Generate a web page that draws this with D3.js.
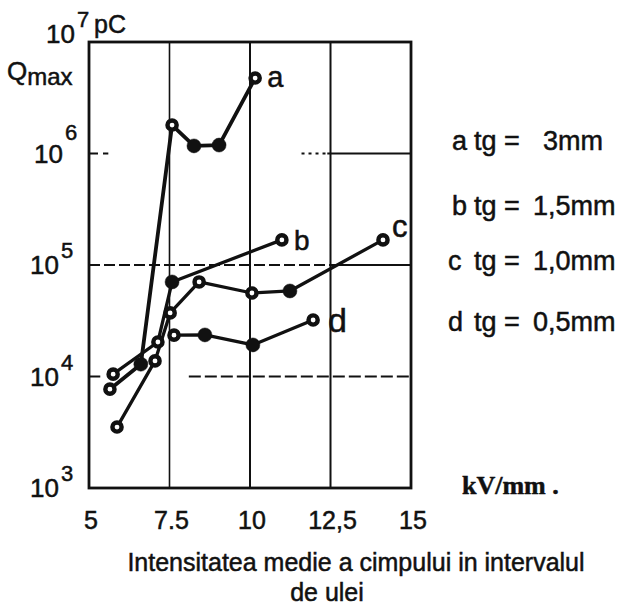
<!DOCTYPE html>
<html>
<head>
<meta charset="utf-8">
<script src="https://cdn.jsdelivr.net/npm/d3@7"></script>
<style>
  body { margin: 0; background: #fff; }
  svg { display: block; }
  text { fill: #111; stroke: #111; stroke-width: 0.5; }
</style>
</head>
<body>
<svg id="chart" width="625" height="608"></svg>
<script>
// Axis ticks
const xTicks = [5, 7.5, 10, 12.5, 15];
const xTickLabels = ["5", "7.5", "10", "12,5", "15"];
const yExponents = [3, 4, 5, 6, 7];

// Field strength (kV/mm) and maximum charge Q_max (pC) for each gap tg
const fieldA = [5.65, 6.61, 7.58, 8.26, 9.04, 10.16];
const chargeA = [7.7e3, 1.29e4, 1.80e6, 1.17e6, 1.19e6, 4.75e6];
const solidA = [false, true, false, true, true, false];

const fieldB = [5.75, 7.14, 7.58, 10.99];
const chargeB = [1.05e4, 2.04e4, 7.05e4, 1.68e5];
const solidB = [false, false, true, false];

const fieldC = [5.87, 7.05, 7.52, 8.42, 10.06, 11.24, 14.13];
const chargeC = [3.52e3, 1.38e4, 3.72e4, 7.05e4, 5.61e4, 5.85e4, 1.68e5];
const solidC = [false, false, false, false, false, true, false];

const fieldD = [7.64, 8.60, 10.09, 11.96];
const chargeD = [2.35e4, 2.36e4, 1.92e4, 3.21e4];
const solidD = [false, true, true, false];

const seriesNames = ["a", "b", "c", "d"];
const legendGap = ["3mm", "1,5mm", "1,0mm", "0,5mm"];

const series = [
  { name: seriesNames[0], field: fieldA, charge: chargeA, solid: solidA },
  { name: seriesNames[1], field: fieldB, charge: chargeB, solid: solidB },
  { name: seriesNames[2], field: fieldC, charge: chargeC, solid: solidC },
  { name: seriesNames[3], field: fieldD, charge: chargeD, solid: solidD }
];

const W = 625, H = 608;
const margin = { top: 42, right: 214, bottom: 120, left: 89 };
const svg = d3.select("#chart");
const FONT = "'Liberation Sans Narrow', 'Liberation Sans', Arial, sans-serif";

const x = d3.scaleLinear().domain([5, 15]).range([margin.left, W - margin.right]);
const y = d3.scaleLog().domain([1e3, 1e7]).range([H - margin.bottom, margin.top]);

const g = svg.append("g");

// Vertical grid lines
g.selectAll("line.vgrid")
  .data(xTicks.slice(1, -1))
  .join("line")
  .attr("x1", d => x(d)).attr("x2", d => x(d))
  .attr("y1", y(1e7)).attr("y2", y(1e3))
  .attr("stroke", "#111").attr("stroke-width", d => d === 7.5 ? 1.6 : 2);

// Horizontal grid lines (dashed, broken where the drawing leaves them open)
const hgrid = [
  { q: 1e4, from: 5, to: 5.35 },
  { q: 1e4, from: 8.1, to: 15, dash: "12,4" },
  { q: 1e5, from: 5, to: 12.5, dash: "11,4" },
  { q: 1e5, from: 12.5, to: 15 },
  { q: 1e6, from: 5, to: 5.6, dash: "9,5" },
  { q: 1e6, from: 11.6, to: 12.4, dash: "3,4" },
  { q: 1e6, from: 12.4, to: 15 }
];
g.selectAll("line.hgrid")
  .data(hgrid)
  .join("line")
  .attr("x1", d => x(d.from)).attr("x2", d => x(d.to))
  .attr("y1", d => y(d.q)).attr("y2", d => y(d.q))
  .attr("stroke", "#111").attr("stroke-width", 2)
  .attr("stroke-dasharray", d => d.dash || null);

// Frame
g.append("rect")
  .attr("x", x(5)).attr("y", y(1e7))
  .attr("width", x(15) - x(5)).attr("height", y(1e3) - y(1e7))
  .attr("fill", "none").attr("stroke", "#111").attr("stroke-width", 2.8);

// Curves
const line = d3.line()
  .x(d => x(d[0]))
  .y(d => y(d[1]));

series.forEach(s => {
  const pts = s.field.map((f, i) => [f, s.charge[i], s.solid[i]]);
  g.append("path")
    .attr("d", line(pts))
    .attr("fill", "none")
    .attr("stroke", "#111")
    .attr("stroke-width", s.name === "a" ? 3.8 : 3.3)
    .attr("stroke-linejoin", "round")
    .attr("stroke-linecap", "round");
  s.pts = pts;
});

// Markers: solid dots and open rings
series.forEach(s => {
  g.selectAll(null)
    .data(s.pts)
    .join("circle")
    .attr("cx", d => x(d[0])).attr("cy", d => y(d[1]))
    .attr("r", d => d[2] ? 7 : 4.6)
    .attr("fill", d => d[2] ? "#111" : "#fff")
    .attr("stroke", "#111")
    .attr("stroke-width", d => d[2] ? 0.5 : 4.4);
});

// Curve letters next to the last point
const labelOffset = { a: [12, 9, 29], b: [12, 10, 28], c: [9, -3, 31], d: [15, 12, 34] };
series.forEach(s => {
  const last = s.pts[s.pts.length - 1];
  const o = labelOffset[s.name];
  g.append("text")
    .attr("x", x(last[0]) + o[0]).attr("y", y(last[1]) + o[1])
    .attr("font-family", FONT).attr("font-size", o[2])
    .text(s.name);
});

// Y tick labels: 10 with exponent
yExponents.forEach(e => {
  const yy = y(Math.pow(10, e));
  const right = e === 7 ? 75 : (e === 6 ? 63 : 59);
  const base = e === 7 ? yy + 1 : yy + 9;
  g.append("text")
    .attr("x", right).attr("y", base)
    .attr("text-anchor", "end")
    .attr("font-family", FONT).attr("font-size", 26)
    .text("10");
  g.append("text")
    .attr("x", right + 2).attr("y", base - (e === 6 ? 23 : 16))
    .attr("font-family", FONT).attr("font-size", 22)
    .text(e);
});
g.append("text")
  .attr("x", 94).attr("y", 33)
  .attr("font-family", FONT).attr("font-size", 25)
  .text("pC");

// Y axis title Q_max
const qt = g.append("text")
  .attr("x", 7).attr("y", 80)
  .attr("font-family", FONT).attr("font-size", 26);
qt.append("tspan").text("Q");
qt.append("tspan").attr("dy", 5).attr("font-size", 24).text("max");

// X tick labels
g.selectAll("text.xtick")
  .data(xTicks)
  .join("text")
  .attr("x", d => x(d) + 2)
  .attr("y", 529)
  .attr("text-anchor", "middle")
  .attr("font-family", FONT).attr("font-size", 25)
  .text((d, i) => xTickLabels[i]);

// Unit
g.append("text")
  .attr("x", 462).attr("y", 494)
  .attr("font-family", "'Liberation Serif', 'DejaVu Serif', serif")
  .attr("font-weight", "bold").attr("font-size", 26)
  .text("kV/mm .");

// X axis title
g.append("text")
  .attr("x", 356).attr("y", 571)
  .attr("text-anchor", "middle")
  .attr("font-family", FONT).attr("font-size", 25)
  .text("Intensitatea medie a cimpului in intervalul");
g.append("text")
  .attr("x", 327).attr("y", 601)
  .attr("text-anchor", "middle")
  .attr("font-family", FONT).attr("font-size", 25)
  .text("de ulei");

// Legend
const rowBase = [150, 215, 270, 331];
seriesNames.forEach((n, i) => {
  const lg = g.append("g").attr("font-family", FONT).attr("font-size", 27);
  lg.append("text").attr("x", i < 2 ? 452 : 448).attr("y", rowBase[i]).text(n);
  lg.append("text").attr("x", 474).attr("y", rowBase[i]).text("tg");
  lg.append("text").attr("x", 504).attr("y", rowBase[i]).text("=");
  lg.append("text").attr("x", i === 0 ? 543 : 533).attr("y", rowBase[i]).text(legendGap[i]);
});
</script>
</body>
</html>
